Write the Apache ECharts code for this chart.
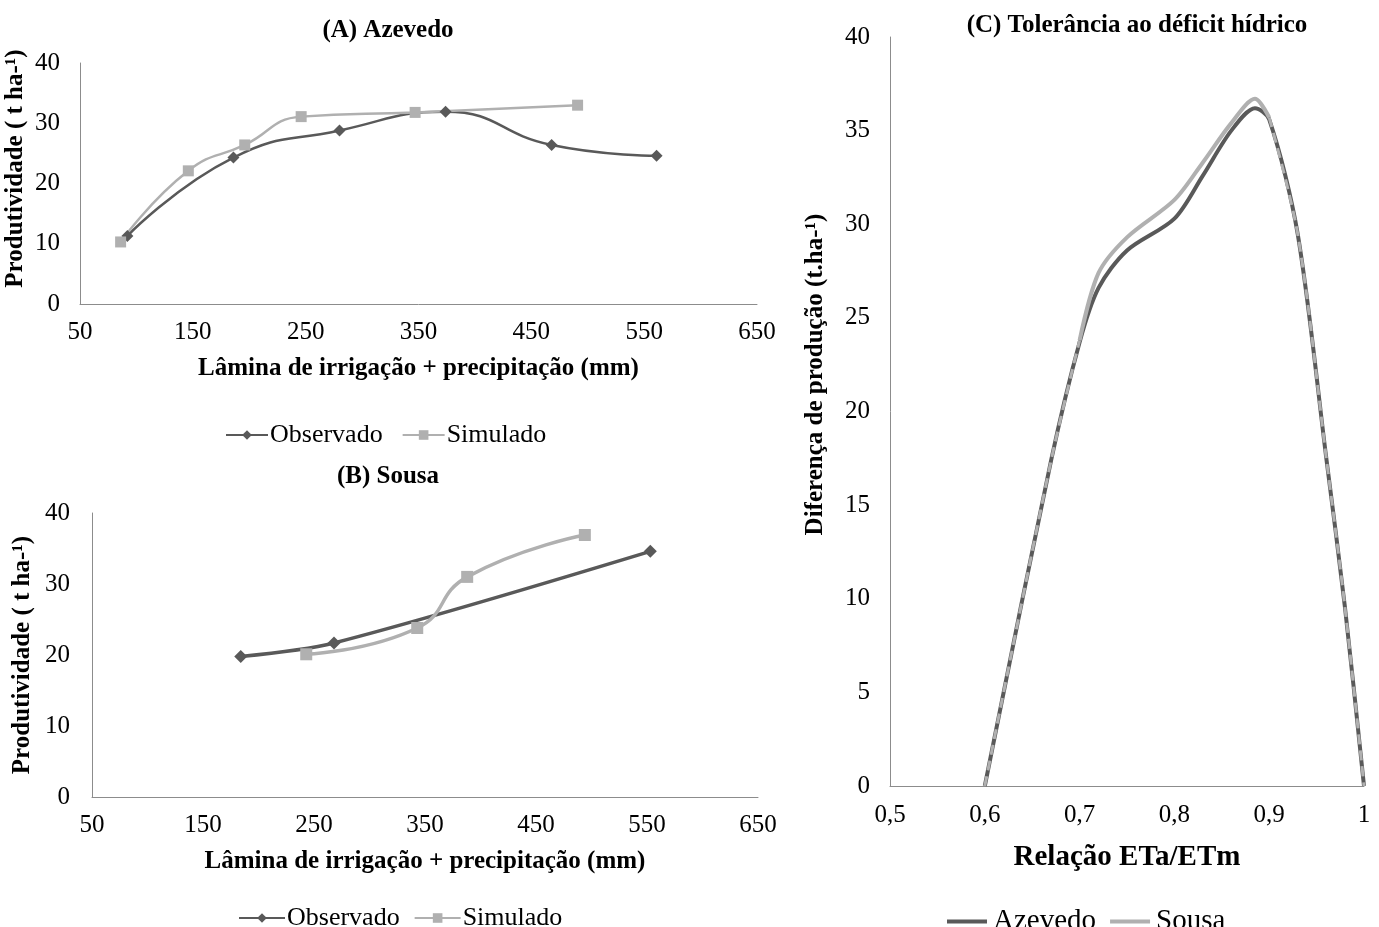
<!DOCTYPE html>
<html>
<head>
<meta charset="utf-8">
<script src="https://cdn.jsdelivr.net/npm/echarts@6/dist/echarts.min.js"></script>
<style>
html,body{margin:0;padding:0;background:#fff;}
#chart{width:1379px;height:927px;}
</style>
</head>
<body>
<div id="chart"></div>
<script>
// (A) Azevedo
var azObsX = [92, 186, 280, 374, 468, 561];
var azObsY = [11.3, 24.3, 28.8, 31.9, 26.4, 24.6];
var azSimX = [86, 146, 196, 246, 347, 491];
var azSimY = [10.3, 22.1, 26.4, 31.1, 31.8, 33.0];
// (B) Sousa
var soObsX = [184, 268, 553];
var soObsY = [19.8, 21.7, 34.6];
var soSimX = [243, 343, 388, 494];
var soSimY = [20.1, 23.8, 31.0, 36.9];
// (C) Tolerancia ao deficit hidrico
var ratioX  = [0.60, 0.67, 0.70, 0.72, 0.75, 0.80, 0.83, 0.86, 0.885, 0.90, 0.93, 0.96, 0.98, 1.00];
var azevedoY = [0, 17.4, 23.7, 26.6, 28.6, 30.3, 32.6, 35.0, 36.2, 35.6, 29.5, 17.6, 9.5, 0];
var sousaY   = [0, 17.4, 23.8, 27.4, 29.3, 31.3, 33.3, 35.4, 36.7, 35.7, 29.5, 17.6, 9.5, 0];

var DARK = '#595959', LIGHT = '#b0b0b0', AXIS = '#8c8c8c';
var FONT = '"Liberation Serif","Times New Roman",serif';
var LINE_ICON = 'path://M0,0 L40,0 L40,4 L0,4 Z';

function zip(xs, ys) {
    var out = [];
    for (var i = 0; i < xs.length; i++) out.push([xs[i], ys[i]]);
    return out;
}
// parte solida do Sousa (onde se separa do Azevedo) e parte tracejada sobreposta
function sousaPart(solid) {
    var out = [];
    for (var i = 0; i < ratioX.length; i++) {
        var inMid = ratioX[i] >= 0.7 && ratioX[i] <= 0.9;
        var isEdge = ratioX[i] == 0.7 || ratioX[i] == 0.9;
        if (solid ? inMid : (!inMid || isEdge)) out.push([ratioX[i], sousaY[i]]);
        else out.push([ratioX[i], null]);
    }
    return out;
}

function valueAxisAB(gridIndex, isX) {
    var ax = {
        type: 'value', gridIndex: gridIndex,
        axisLine: {show: true, lineStyle: {color: AXIS, width: 1}},
        axisTick: {show: false},
        splitLine: {show: false},
        axisLabel: {color: '#000', fontFamily: FONT, fontSize: 25}
    };
    if (isX) {
        ax.min = 50; ax.max = 650; ax.interval = 100;
        ax.name = 'Lâmina de irrigação + precipitação (mm)';
        ax.nameLocation = 'middle';
        ax.nameGap = 52;
        ax.nameTextStyle = {color: '#000', fontFamily: FONT, fontSize: 25, fontWeight: 'bold'};
        ax.axisLabel.margin = 16;
    } else {
        ax.min = 0; ax.max = 40; ax.interval = 10;
        ax.name = 'Produtividade ( t ha-¹)';
        ax.nameLocation = 'middle';
        ax.nameGap = gridIndex == 0 ? 52 : 57;
        // o titulo do eixo fica um pouco acima do centro
        ax.nameTextStyle = {color: '#000', fontFamily: FONT, fontSize: 25, fontWeight: 'bold',
            padding: gridIndex == 0 ? [0, 0, 0, 30] : [0, 0, 0, 0]};
        ax.axisLabel.margin = gridIndex == 0 ? 20 : 22;
    }
    return ax;
}

function lineSeries(name, xi, data, color, symbol, size, width, smooth) {
    return {
        name: name, type: 'line', xAxisIndex: xi, yAxisIndex: xi,
        data: data, smooth: smooth,
        symbol: symbol, symbolSize: size,
        lineStyle: {color: color, width: width},
        itemStyle: {color: color},
        emphasis: {disabled: true}
    };
}

var titleStyle = {fontFamily: FONT, fontSize: 25, fontWeight: 'bold', color: '#000'};

var option = {
    animation: false,
    backgroundColor: '#fff',
    textStyle: {fontFamily: FONT},
    title: [
        {text: '(A) Azevedo', left: 383, top: 13, textAlign: 'center', textStyle: titleStyle},
        {text: '(B) Sousa', left: 383, top: 459, textAlign: 'center', textStyle: titleStyle},
        {text: '(C) Tolerância ao déficit hídrico', left: 1132, top: 8, textAlign: 'center', textStyle: titleStyle}
    ],
    legend: [
        {data: ['Observado', 'Simulado'], left: 220, top: 417, itemWidth: 42, itemHeight: 12, itemGap: 19,
            textStyle: {fontFamily: FONT, fontSize: 26, color: '#000', padding: [0, 0, 0, -3]}},
        {data: ['Observado', 'Simulado'], left: 233, top: 900, itemWidth: 46, itemHeight: 12, itemGap: 14,
            textStyle: {fontFamily: FONT, fontSize: 26, color: '#000', padding: [0, 0, 0, -3]}},
        {data: [{name: 'Azevedo', icon: LINE_ICON}, {name: 'Sousa', icon: LINE_ICON}],
            left: 942, top: 902, itemWidth: 50, itemHeight: 4, itemGap: 14,
            textStyle: {fontFamily: FONT, fontSize: 29, color: '#000', padding: [0, 0, 0, -4]}}
    ],
    grid: [
        {left: 80, right: 622, top: 63, bottom: 623, containLabel: false},
        {left: 92, right: 621, top: 513, bottom: 130, containLabel: false},
        {left: 890, right: 15, top: 37, bottom: 141, containLabel: false}
    ],
    xAxis: [
        valueAxisAB(0, true),
        valueAxisAB(1, true),
        {
            type: 'value', gridIndex: 2, min: 0.5, max: 1, interval: 0.1,
            axisLine: {show: true, lineStyle: {color: AXIS, width: 1}},
            axisTick: {show: false}, splitLine: {show: false},
            axisLabel: {color: '#000', fontFamily: FONT, fontSize: 25, margin: 17,
                formatter: function (v) { return String(+v.toFixed(1)).replace('.', ','); }},
            name: 'Relação ETa/ETm', nameLocation: 'middle', nameGap: 57,
            nameTextStyle: {color: '#000', fontFamily: FONT, fontSize: 29, fontWeight: 'bold'}
        }
    ],
    yAxis: [
        valueAxisAB(0, false),
        valueAxisAB(1, false),
        {
            type: 'value', gridIndex: 2, min: 0, max: 40, interval: 5,
            axisLine: {show: true, lineStyle: {color: AXIS, width: 1}},
            axisTick: {show: false}, splitLine: {show: false},
            axisLabel: {color: '#000', fontFamily: FONT, fontSize: 25, margin: 20},
            name: 'Diferença de produção (t.ha-¹)', nameLocation: 'middle', nameGap: 62,
            nameTextStyle: {color: '#000', fontFamily: FONT, fontSize: 25, fontWeight: 'bold',
                padding: [0, 0, 0, 74]}
        }
    ],
    series: [
        lineSeries('Observado', 0, zip(azObsX, azObsY), DARK, 'diamond', 12, 2.5, 0.5),
        lineSeries('Simulado', 0, zip(azSimX, azSimY), LIGHT, 'rect', 11, 2.5, 0.5),
        lineSeries('Observado', 1, zip(soObsX, soObsY), DARK, 'diamond', 13, 3.5, 0.3),
        lineSeries('Simulado', 1, zip(soSimX, soSimY), LIGHT, 'rect', 12, 3.5, 0.5),
        {
            name: 'Azevedo', type: 'line', xAxisIndex: 2, yAxisIndex: 2,
            data: zip(ratioX, azevedoY), smooth: 0.3, symbol: 'none',
            lineStyle: {color: DARK, width: 4}, itemStyle: {color: DARK}, emphasis: {disabled: true}
        },
        {
            name: 'Sousa', type: 'line', xAxisIndex: 2, yAxisIndex: 2,
            data: sousaPart(true), smooth: 0.3, symbol: 'none', connectNulls: false,
            lineStyle: {color: LIGHT, width: 4}, itemStyle: {color: LIGHT}, emphasis: {disabled: true}
        },
        {
            name: 'Sousa', type: 'line', xAxisIndex: 2, yAxisIndex: 2,
            data: sousaPart(false), smooth: 0.3, symbol: 'none', connectNulls: false,
            lineStyle: {color: LIGHT, width: 3, type: [10, 6]}, itemStyle: {color: LIGHT}, emphasis: {disabled: true}
        }
    ]
};

var myChart = echarts.init(document.getElementById('chart'));
myChart.setOption(option);
</script>
</body>
</html>
